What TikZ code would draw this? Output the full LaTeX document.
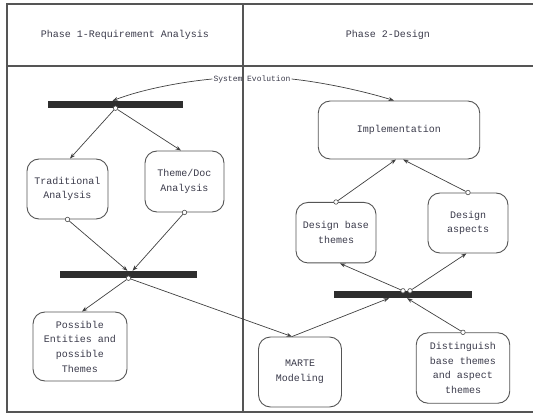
\documentclass[tikz,border=0pt]{standalone}
\usepackage{fontspec}
\setmainfont{Liberation Mono}
\usetikzlibrary{arrows.meta,calc}
\definecolor{txt}{HTML}{3A3A4A}
\definecolor{frm}{HTML}{555555}
\definecolor{barc}{HTML}{2E2E2E}
\tikzset{
  box/.style={draw=frm, line width=0.9pt, rounded corners=12pt, align=center,
    inner sep=0pt, text=txt, font=\fontsize{10}{14.7}\selectfont},
  bar/.style={fill=barc, draw=none, inner sep=0pt},
  dot/.style={circle, draw=black!70, fill=white, line width=0.6pt, inner sep=0pt, minimum size=4.5pt},
  conn/.style={draw=black!75, line width=0.7pt, -{Stealth[length=5.5pt,width=4pt]}},
  frameline/.style={draw=frm, line width=1.3pt},
  head/.style={text=txt, font=\fontsize{10}{12}\selectfont}
}
\begin{document}
\begin{tikzpicture}[x=1pt,y=-1pt]
\useasboundingbox (0,0) rectangle (533,414);
% frame
\draw[frameline] (534,4) -- (7,4) -- (7,412) -- (534,412);
\draw[frameline] (7,66) -- (534,66);
\draw[frameline] (243,4) -- (243,412);
\node[head] (h1) at (125,35) {Phase 1-Requirement Analysis};
\node[head] (h2) at (388,35) {Phase 2-Design};
% bars
\node[bar, minimum width=135pt, minimum height=7pt] (bar1) at (115.5,104.5) {};
\node[bar, minimum width=137pt, minimum height=7pt] (bar2) at (128.5,274.5) {};
\node[bar, minimum width=138pt, minimum height=7pt] (bar3) at (403,294.5) {};
% boxes
\node[box, minimum width=81pt, minimum height=60pt] (ta) at (67.5,189) {Traditional\\Analysis};
\node[box, minimum width=79pt, minimum height=61pt] (td) at (184.5,181.5) {Theme/Doc\\Analysis};
\node[box, minimum width=94pt, minimum height=69pt] (pe) at (80,346.5) {Possible\\Entities and\\possible\\Themes};
\node[box, minimum width=83pt, minimum height=70pt] (marte) at (300,372) {MARTE\\Modeling};
\node[box, minimum width=161.5pt, minimum height=58pt] (impl) at (399,130) {Implementation};
\node[box, minimum width=80pt, minimum height=60.5pt] (dbt) at (336,232.7) {Design base\\themes};
\node[box, minimum width=80pt, minimum height=60pt] (da) at (468,223) {Design\\aspects};
\node[box, minimum width=93.5pt, minimum height=70.5pt] (dist) at (463,368) {Distinguish\\base themes\\and aspect\\themes};
% system evolution
\node[text=txt, font=\fontsize{8}{9}\selectfont, inner sep=1pt] (se) at (252,79) {System Evolution};
\draw[conn] (se.west) .. controls (180,82) and (140,90) .. ([xshift=-3pt]bar1.north);
\draw[conn] (se.east) .. controls (320,82) and (360,90) .. ([xshift=-5pt]impl.north);
% circles
\node[dot] (c1) at (bar1.south) {};
\node[dot] (c2) at (ta.south) {};
\node[dot] (c3) at (td.south) {};
\node[dot] (c4) at (bar2.south) {};
\node[dot] (c5) at (dist.north) {};
\node[dot] (c6) at (bar3.north) {};
\node[dot] (c7) at ([xshift=7pt]bar3.north) {};
\node[dot] (c8) at (dbt.north) {};
\node[dot] (c9) at (da.north) {};
\coordinate (mt) at ([xshift=-8pt]marte.north);
% connectors
\draw[conn] (c1) -- ([xshift=2.5pt]ta.north);
\draw[conn] (c1) -- ([xshift=-3.5pt]td.north);
\draw[conn] (c2) -- ([xshift=-1pt]bar2.north);
\draw[conn] (c3) -- ([xshift=4pt]bar2.north);
\draw[conn] (c4) -- ([xshift=2pt]pe.north);
\draw[conn] (c4) -- (mt);
\draw[conn] (mt) -- ([xshift=-14pt]bar3.south);
\draw[conn] (c5) -- ([xshift=4pt]bar3.south);
\draw[conn] (c6) -- ([xshift=4pt]dbt.south);
\draw[conn] (c7) -- ([xshift=-1.5pt]da.south);
\draw[conn] (c8) -- ([xshift=-3pt]impl.south);
\draw[conn] (c9) -- ([xshift=4pt]impl.south);
\end{tikzpicture}
\end{document}
